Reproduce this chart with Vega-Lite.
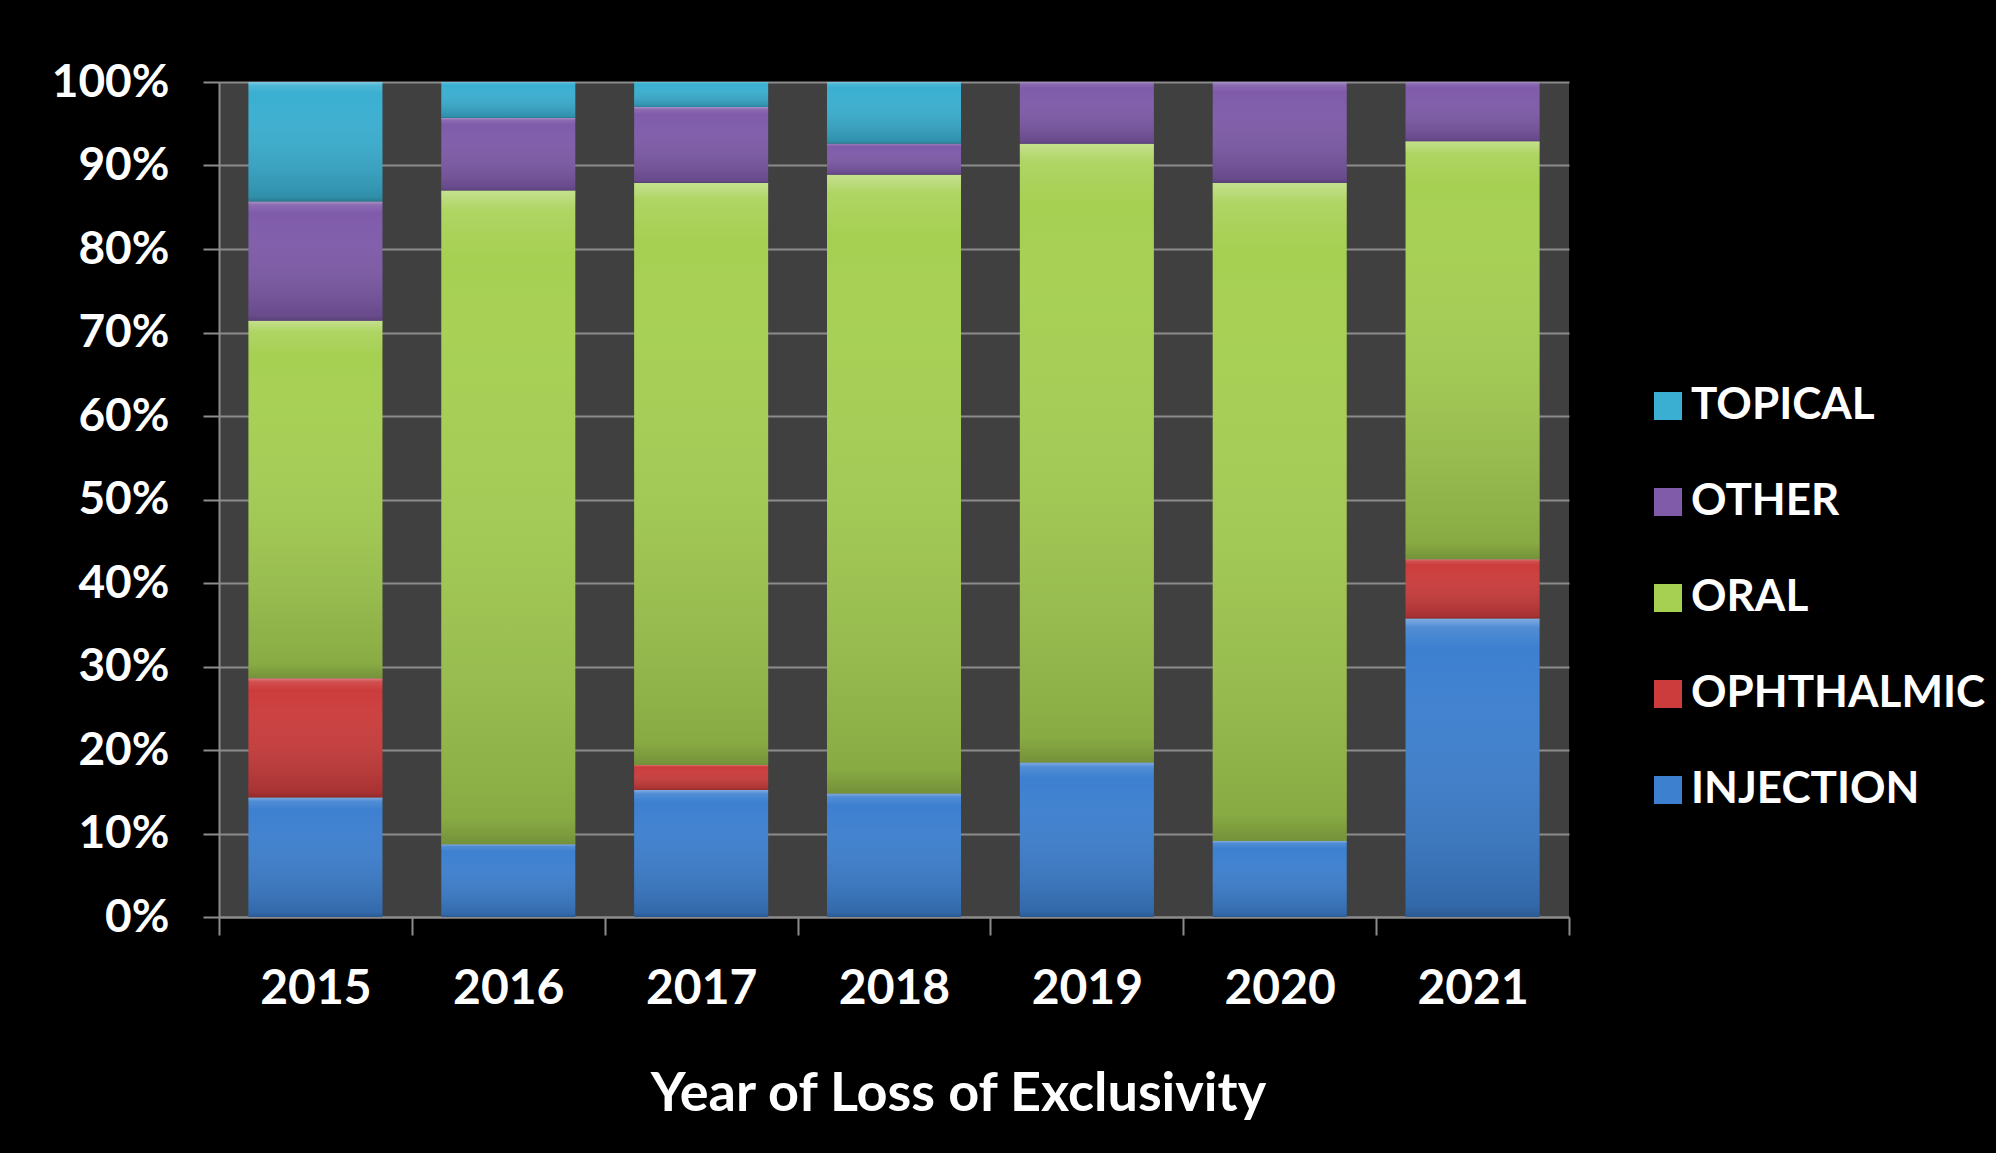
{
  "$schema": "https://vega.github.io/schema/vega-lite/v6.json",
  "autosize": {"type": "none"},
  "width": 1350,
  "height": 835,
  "padding": {"left": 219, "top": 82, "right": 427, "bottom": 236},
  "background": "#000000",
  "data": {
    "values": [
      {"year": "2015", "form": "INJECTION", "pct": 14.3},
      {"year": "2015", "form": "OPHTHALMIC", "pct": 14.3},
      {"year": "2015", "form": "ORAL", "pct": 42.8},
      {"year": "2015", "form": "OTHER", "pct": 14.3},
      {"year": "2015", "form": "TOPICAL", "pct": 14.3},
      {"year": "2016", "form": "INJECTION", "pct": 8.7},
      {"year": "2016", "form": "ORAL", "pct": 78.3},
      {"year": "2016", "form": "OTHER", "pct": 8.7},
      {"year": "2016", "form": "TOPICAL", "pct": 4.3},
      {"year": "2017", "form": "INJECTION", "pct": 15.2},
      {"year": "2017", "form": "OPHTHALMIC", "pct": 3.0},
      {"year": "2017", "form": "ORAL", "pct": 69.7},
      {"year": "2017", "form": "OTHER", "pct": 9.1},
      {"year": "2017", "form": "TOPICAL", "pct": 3.0},
      {"year": "2018", "form": "INJECTION", "pct": 14.8},
      {"year": "2018", "form": "ORAL", "pct": 74.1},
      {"year": "2018", "form": "OTHER", "pct": 3.7},
      {"year": "2018", "form": "TOPICAL", "pct": 7.4},
      {"year": "2019", "form": "INJECTION", "pct": 18.5},
      {"year": "2019", "form": "ORAL", "pct": 74.1},
      {"year": "2019", "form": "OTHER", "pct": 7.4},
      {"year": "2020", "form": "INJECTION", "pct": 9.1},
      {"year": "2020", "form": "ORAL", "pct": 78.8},
      {"year": "2020", "form": "OTHER", "pct": 12.1},
      {"year": "2021", "form": "INJECTION", "pct": 35.7},
      {"year": "2021", "form": "OPHTHALMIC", "pct": 7.1},
      {"year": "2021", "form": "ORAL", "pct": 50.0},
      {"year": "2021", "form": "OTHER", "pct": 7.1}
    ]
  },
  "encoding": {
    "x": {
      "field": "year",
      "type": "ordinal",
      "scale": {"paddingInner": 0, "paddingOuter": 0},
      "axis": {
        "title": "Year of Loss of Exclusivity",
        "labelAngle": 0,
        "tickBand": "extent",
        "tickSize": 18,
        "labelPadding": 30,
        "labelFontSize": 48,
        "titleFontSize": 54,
        "titleX": 739,
        "titleY": 150,
        "titleBaseline": "top",
        "titleAlign": "center"
      }
    },
    "y": {
      "field": "pct",
      "type": "quantitative",
      "stack": "normalize",
      "axis": {
        "title": null,
        "format": ".0%",
        "values": [0, 0.1, 0.2, 0.3, 0.4, 0.5, 0.6, 0.7, 0.8, 0.9, 1],
        "grid": true,
        "tickSize": 16,
        "labelPadding": 34,
        "labelFontSize": 46
      }
    },
    "order": {"field": "form", "sort": "ascending"},
    "detail": {"field": "form"}
  },
  "layer": [
    {
      "mark": {"type": "bar", "width": {"band": 0.695}},
      "encoding": {
        "color": {
          "field": "form",
          "type": "nominal",
          "scale": {
            "domain": ["TOPICAL", "OTHER", "ORAL", "OPHTHALMIC", "INJECTION"],
            "range": ["#3AAFD1", "#7F5BAA", "#A6D052", "#CC3C3C", "#3D80D0"]
          },
          "legend": {
            "title": null,
            "orient": "none",
            "legendX": 1427,
            "legendY": 302,
            "symbolType": "square",
            "symbolSize": 784,
            "symbolStrokeWidth": 0,
            "symbolOpacity": 1,
            "labelFontSize": 44,
            "labelOffset": 1,
            "rowPadding": 52,
            "labelLimit": 500
          }
        }
      }
    },
    {
      "mark": {
        "type": "bar",
        "width": {"band": 0.695},
        "fill": {
          "gradient": "linear",
          "x1": 0, "y1": 0, "x2": 0, "y2": 1,
          "stops": [
            {"offset": 0, "color": "rgba(255,255,255,0.35)"},
            {"offset": 0.03, "color": "rgba(255,255,255,0.1)"},
            {"offset": 0.1, "color": "rgba(255,255,255,0.0)"},
            {"offset": 0.96, "color": "rgba(0,0,0,0.18)"},
            {"offset": 1, "color": "rgba(0,0,0,0.3)"}
          ]
        }
      }
    }
  ],
  "config": {
    "view": {"fill": "#404040", "stroke": null},
    "font": "Lato",
    "axis": {
      "domainColor": "#8c8c8c",
      "domainWidth": 2,
      "tickColor": "#8c8c8c",
      "tickWidth": 2,
      "gridColor": "#8c8c8c",
      "gridWidth": 2,
      "labelColor": "#ffffff",
      "labelFont": "Lato",
      "labelFontWeight": "bold",
      "titleColor": "#ffffff",
      "titleFont": "Lato",
      "titleFontWeight": "bold"
    },
    "legend": {
      "labelColor": "#ffffff",
      "labelFont": "Lato",
      "labelFontWeight": "bold"
    }
  }
}
